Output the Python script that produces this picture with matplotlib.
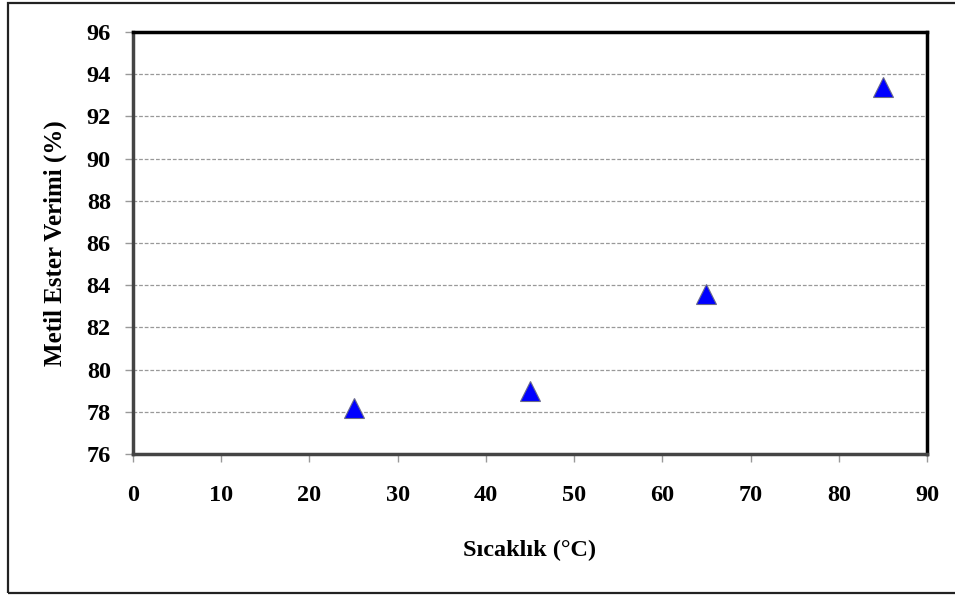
import matplotlib.pyplot as plt
from matplotlib.patches import Rectangle

# Data
temperature = [25, 45, 65, 85]
yield_pct = [78.2, 79.0, 83.6, 93.4]

x_ticks = list(range(0, 91, 10))
y_ticks = list(range(76, 97, 2))

plt.rcParams['font.family'] = ['Liberation Serif', 'DejaVu Serif']
plt.rcParams['font.weight'] = 'bold'

fig = plt.figure(figsize=(9.55, 5.96), dpi=100)
ax = fig.add_axes([133 / 955, 1 - 454 / 596, (927 - 133) / 955, (454 - 32) / 596])

# outer frame of the figure (right side cut off in the original)
fig.patches.append(Rectangle((8 / 955, 3 / 596), 1.0, 590 / 596, transform=fig.transFigure,
                             fill=False, edgecolor='#222222', linewidth=1.6))

ax.plot(temperature, yield_pct, linestyle='none', marker='^', markersize=14,
        markerfacecolor='#0000ff', markeredgecolor='#6a6a8a', markeredgewidth=0.8, zorder=3)

ax.set_xlim(0, 90)
ax.set_ylim(76, 96)
ax.set_xticks(x_ticks)
ax.set_yticks(y_ticks)
ax.yaxis.grid(True, linestyle=(0, (3, 1.5)), color='#999999', linewidth=0.9)
ax.set_axisbelow(True)

for side in ['top', 'right']:
    ax.spines[side].set_linewidth(2.5)
    ax.spines[side].set_color('black')
for side in ['left', 'bottom']:
    ax.spines[side].set_linewidth(2.5)
    ax.spines[side].set_color('#444444')

ax.tick_params(direction='out', length=6, width=1, color='#999999', labelsize=17.5, pad=10)
ax.tick_params(axis='x', pad=16)
for lab in ax.get_xticklabels() + ax.get_yticklabels():
    lab.set_fontweight('bold')

ax.set_xlabel('Sıcaklık (°C)', fontsize=17.5, fontweight='bold', labelpad=25)
ax.set_ylabel('Metil Ester Verimi (%)', fontsize=18, fontweight='bold', labelpad=14)

fig.savefig('out.png', dpi=100)
